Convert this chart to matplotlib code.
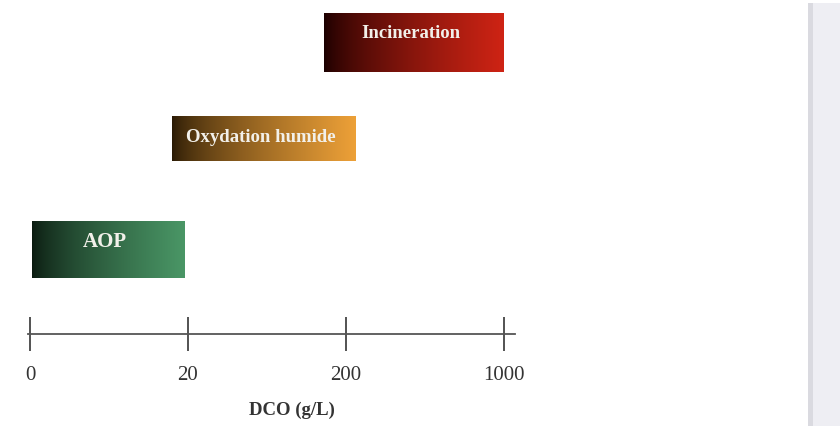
import numpy as np
import matplotlib
matplotlib.use("Agg")
import matplotlib.pyplot as plt
from matplotlib.patches import Rectangle

# ---- data ----
tick_values = [0, 20, 200, 1000]
tick_labels = ["0", "20", "200", "1000"]
categories = ["AOP", "Oxydation humide", "Incineration"]
range_start = [0, 18, 175]      # DCO g/L
range_end = [19.5, 250, 1000]   # DCO g/L
xlabel = "DCO (g/L)"

# ---- styles / layout ----
left_colors = [(0.04, 0.10, 0.06), (0.16, 0.10, 0.02), (0.10, 0.00, 0.00)]
right_colors = [(0.29, 0.59, 0.40), (0.93, 0.63, 0.22), (0.81, 0.14, 0.08)]
row_top_px = [222, 117, 14]
row_bot_px = [279, 162, 73]
text_y_px = [242, 138, 34]
text_size = [15, 13.5, 13.5]

W, H = 840, 427
fig = plt.figure(figsize=(W / 100, H / 100), dpi=100)
fig.patch.set_facecolor("white")

px_per_unit = 158.0
x0_px = 30.0
ax_w_px = 540.0
ax = fig.add_axes([0, 0, ax_w_px / W, 1])
ax.patch.set_alpha(0)

tick_pos = np.arange(len(tick_values))


def to_pos(v):
    return np.interp(v, tick_values, tick_pos)


for i, cat in enumerate(categories):
    xs, xe = to_pos(range_start[i]), to_pos(range_end[i])
    if i == 0:
        xs += 0.01
    t = np.linspace(0, 1, 256) ** 0.7
    lc = np.array(left_colors[i])
    rc = np.array(right_colors[i])
    grad = lc[None, :] + (rc - lc)[None, :] * t[:, None]
    ax.imshow(grad[None, :, :], extent=[xs, xe, row_bot_px[i], row_top_px[i]],
              aspect="auto", interpolation="bilinear", zorder=2)
    xc = (xs + xe) / 2 - 0.02
    ax.text(xc, text_y_px[i], cat, ha="center", va="center", color="#f2f0ea",
            fontsize=text_size[i], fontweight="bold", family="Liberation Serif", zorder=3)

# axis line
for s in ["left", "right", "top"]:
    ax.spines[s].set_visible(False)
ax.spines["bottom"].set_position(("data", 335))
ax.spines["bottom"].set_bounds(-0.01, 3.07)
ax.spines["bottom"].set_color("#555555")
ax.spines["bottom"].set_linewidth(1.3)
ax.set_xticks(tick_pos)
ax.set_xticklabels(tick_labels, family="Liberation Serif", fontsize=15, color="#333333")
ax.tick_params(axis="x", direction="inout", length=25, width=1.3, color="#444444", pad=10)
ax.set_yticks([])
ax.set_xlim(-x0_px / px_per_unit, (ax_w_px - x0_px) / px_per_unit)
ax.set_ylim(H, 0)

fig.text(292 / W, 1 - 410 / H, xlabel, ha="center", va="center", fontsize=13.5,
         fontweight="bold", family="Liberation Serif", color="#333333")

# right grey strip
fig.patches.append(Rectangle((808 / W, 0), 32 / W, (H - 4) / H, transform=fig.transFigure,
                             facecolor="#eeeef3", edgecolor="none"))
fig.patches.append(Rectangle((808 / W, 0), 5 / W, (H - 4) / H, transform=fig.transFigure,
                             facecolor="#dadae0", edgecolor="none"))

fig.savefig("out.png", dpi=100)
